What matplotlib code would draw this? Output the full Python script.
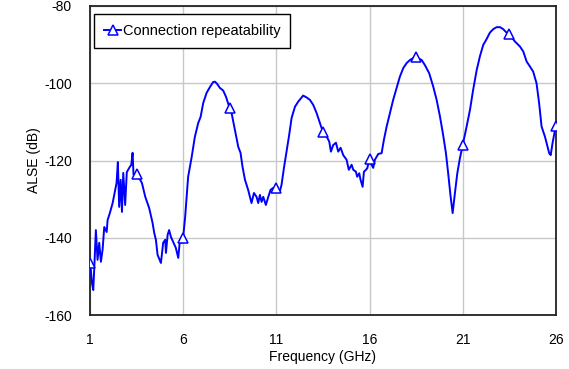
import numpy as np
import matplotlib.pyplot as plt

plt.rc('font', family=['Liberation Sans', 'DejaVu Sans'], size=10)
plt.rc('axes', unicode_minus=False)

# frequency (GHz) and ALSE (dB)
freq = [1.00, 1.05, 1.11, 1.18, 1.23, 1.32, 1.41, 1.50, 1.59, 1.68, 1.77, 1.90, 1.95,
        2.07, 2.22, 2.34, 2.43, 2.50, 2.57, 2.65, 2.72, 2.79, 2.89, 2.98, 3.11, 3.22,
        3.29, 3.34, 3.50, 3.64, 3.79, 3.97, 4.18, 4.36, 4.45, 4.54, 4.63, 4.81, 4.93,
        5.04, 5.08, 5.17, 5.25, 5.35, 5.47, 5.61, 5.74, 5.83, 5.94, 6.00, 6.11,
        6.27, 6.46, 6.63, 6.81, 6.94, 7.08, 7.26, 7.44, 7.61, 7.71, 7.83, 7.97, 8.15,
        8.30, 8.50, 8.60, 8.78, 8.96, 9.08, 9.19, 9.32, 9.49, 9.67, 9.80, 9.94, 10.03,
        10.12, 10.21, 10.30, 10.44, 10.57, 10.69, 10.83, 11.00,
        11.19, 11.28, 11.41, 11.55, 11.69, 11.82, 12.00, 12.17, 12.44, 12.63, 12.80,
        12.98, 13.16, 13.34, 13.50, 13.66, 13.84, 13.93, 14.05, 14.20, 14.32, 14.45,
        14.59, 14.77, 14.89, 15.04, 15.13, 15.27, 15.34, 15.45, 15.52, 15.63, 15.70,
        15.81, 15.88, 16.00, 16.11, 16.20, 16.29, 16.47, 16.65, 16.77, 16.92, 17.09,
        17.27, 17.45, 17.63, 17.81, 17.99, 18.17, 18.34, 18.50, 18.80, 18.97, 19.20,
        19.42, 19.60, 19.78, 19.95, 20.10, 20.22, 20.35, 20.46, 20.58, 20.71, 20.85,
        21.00, 21.21, 21.39, 21.56, 21.75, 21.92, 22.10, 22.28, 22.46, 22.64, 22.82,
        23.00, 23.17, 23.35, 23.50, 23.80, 24.07, 24.25, 24.43, 24.61, 24.78, 24.96,
        25.10, 25.23, 25.41, 25.50, 25.64, 25.72, 25.82, 25.95, 26.00]
alse = [-146.5, -148.3, -151.7, -153.5, -148.3, -138.0, -145.7, -141.3, -146.2, -143.1,
        -137.2, -138.5, -135.4, -133.6, -131.0, -128.1, -125.8, -120.4, -132.0, -125.0,
        -133.3, -123.2, -131.5, -123.0, -121.9, -121.1, -118.0, -123.7, -123.4, -124.5,
        -125.8, -129.4, -132.3, -136.1, -138.7, -140.5, -144.4, -146.5, -141.3, -140.5,
        -143.9, -139.2, -138.0, -139.8, -141.1, -142.6, -145.2, -140.5, -141.3, -140.0,
        -134.6,
        -124.2, -119.1, -113.9, -110.3, -108.7, -105.1, -102.5, -101.0, -99.7, -99.6,
        -100.2, -101.2, -101.9, -103.5, -106.5, -107.7, -112.1, -116.5, -118.0, -121.7,
        -125.0, -127.6, -131.0, -128.4, -129.4, -131.0, -128.9, -130.7, -129.4, -131.5,
        -129.4, -127.6, -127.1, -127.1,
        -128.0, -126.3, -121.9, -117.7, -113.4, -109.0, -106.1, -104.8, -103.2, -103.7,
        -104.3, -105.6, -107.7, -110.3, -112.6, -113.4, -115.1, -117.7, -116.0, -115.4,
        -117.7, -116.7, -118.6, -119.8, -122.4, -121.1, -122.4, -122.9, -124.2, -123.3,
        -125.0, -126.8, -122.9, -122.4, -122.0, -119.5, -121.1, -121.9, -119.8, -118.3,
        -118.1, -114.7, -111.2, -107.8, -104.3, -101.3, -98.3, -96.1, -94.8, -94.0,
        -93.5, -93.3, -94.0, -95.3, -97.4, -100.9, -104.3, -108.6, -113.4, -118.1,
        -123.3, -129.3, -133.6, -128.5, -123.3, -119.4, -116.0, -111.2, -106.9, -101.7,
        -96.6, -93.1, -90.1, -88.6, -86.9, -86.0, -85.5, -85.5, -86.0, -86.9, -87.3,
        -89.2, -90.5, -91.8, -94.4, -95.7, -97.0, -100.0, -105.2, -111.2, -113.8,
        -115.5, -118.1, -118.6, -115.5, -112.1, -111.0]
marker_freq = [1, 3.5, 6, 8.5, 11, 13.5, 16, 18.5, 21, 23.5, 26]

x = np.array(freq)
y = np.array(alse)
mark_idx = [int(np.argmin(np.abs(x - f))) for f in marker_freq]

fig = plt.figure(figsize=(5.69, 3.69), dpi=100)
ax = fig.add_axes([0.158, 0.146, 0.819, 0.838])

ax.plot(x, y, color='#0000ff', linewidth=1.4, marker='^', markersize=7,
        markerfacecolor='white', markeredgecolor='#0000ff', markeredgewidth=1.1,
        markevery=mark_idx, label='Connection repeatability', zorder=3)

ax.set_xlim(1, 26)
ax.set_ylim(-160, -80)
ax.set_xticks(np.arange(1, 27, 5))
ax.set_yticks(np.arange(-160, -79, 20))
ax.grid(True, color='#c8c8c8', linewidth=1)
ax.set_axisbelow(True)
ax.tick_params(length=0, labelsize=10)
ax.tick_params(axis='x', pad=13)
ax.tick_params(axis='y', pad=13)
for s in ax.spines.values():
    s.set_color('#222222')
    s.set_linewidth(1.3)

ax.set_xlabel('Frequency (GHz)', fontsize=10, labelpad=2)
ax.set_ylabel('ALSE (dB)', fontsize=10, labelpad=2)

leg = ax.legend(loc='upper left', fancybox=False, framealpha=1, edgecolor='black',
                handlelength=1.15, handletextpad=0.1, borderpad=0.7, borderaxespad=0,
                prop={'size': 10.5}, bbox_to_anchor=(0.009, 0.974))
leg.get_frame().set_linewidth(1.0)

plt.savefig('out.png', dpi=100)
